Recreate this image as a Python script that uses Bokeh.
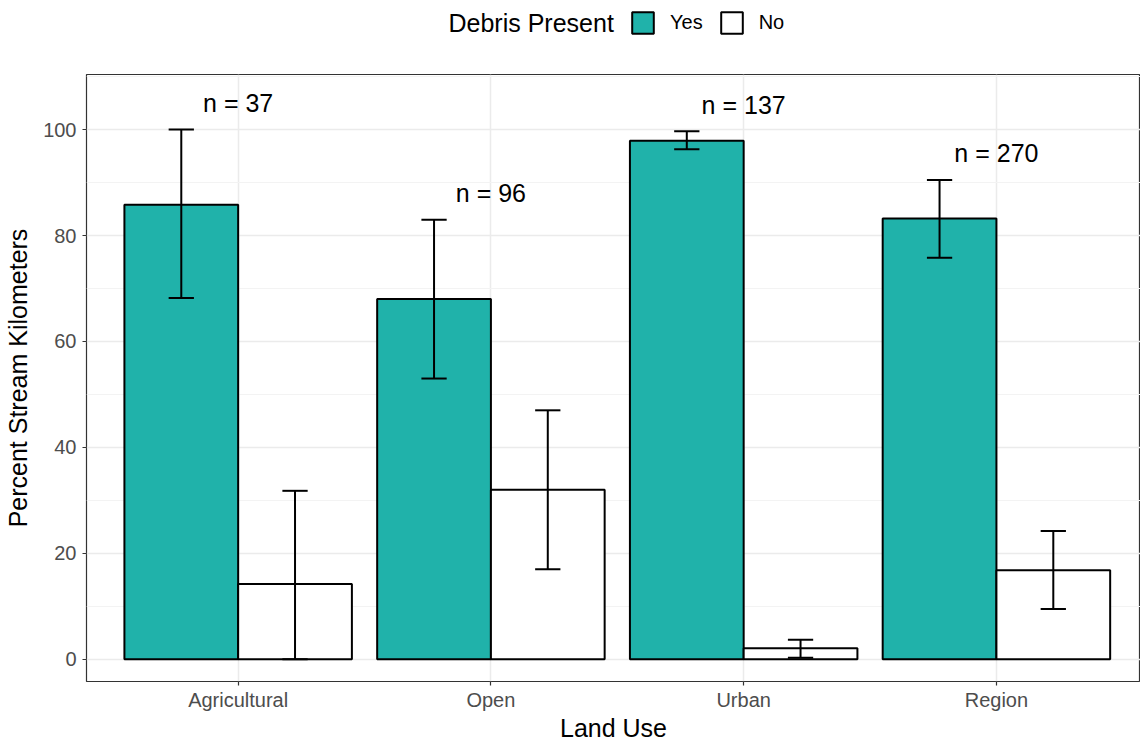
from bokeh.plotting import figure
from bokeh.layouts import column
from bokeh.models import Legend, LegendItem, FixedTicker, Range1d, ColumnDataSource, Label
from bokeh.core.properties import value
from bokeh.embed import file_html
from bokeh.resources import INLINE

# ---- data ----
categories = ["Agricultural", "Open", "Urban", "Region"]
yes_pct = [85.8, 68.0, 97.9, 83.2]
yes_lower = [68.2, 53.0, 96.3, 75.8]
yes_upper = [100.0, 83.0, 99.7, 90.5]
no_pct = [14.2, 32.0, 2.1, 16.8]
no_lower = [0.0, 17.0, 0.3, 9.5]
no_upper = [31.8, 47.0, 3.7, 24.2]
n_sites = [37, 96, 137, 270]
series_names = ["Yes", "No"]
legend_title = "Debris Present"
y_ticks = [0, 20, 40, 60, 80, 100]
y_minor = [10, 30, 50, 70, 90, 110]

FONT = "Liberation Sans"
TEAL = "#20B2AA"
DODGE = 0.225
BAR_W = 0.45
CAP = 0.05

pos = [i + 1 for i in range(len(categories))]
x_yes = [p_ - DODGE for p_ in pos]
x_no = [p_ + DODGE for p_ in pos]

src_yes = ColumnDataSource(dict(x=x_yes, top=yes_pct, lo=yes_lower, hi=yes_upper,
                                cl=[x - CAP for x in x_yes], cr=[x + CAP for x in x_yes]))
src_no = ColumnDataSource(dict(x=x_no, top=no_pct, lo=no_lower, hi=no_upper,
                               cl=[x - CAP for x in x_no], cr=[x + CAP for x in x_no]))
label_y = [max(a, b) + 5 for a, b in zip(yes_upper, no_upper)]
src_lab = ColumnDataSource(dict(x=pos, y=label_y, text=[f"n = {n}" for n in n_sites]))

# ---------------- legend strip ----------------
LEG_H = 70
FRAME_L = 86
pl = figure(width=1140, height=LEG_H, output_backend="svg", toolbar_location=None,
            x_range=Range1d(0, 1), y_range=Range1d(0, 1),
            x_axis_type=None, y_axis_type=None,
            min_border_left=0, min_border_right=0, min_border_top=0, min_border_bottom=0)
pl.outline_line_color = None
pl.xgrid.visible = False
pl.ygrid.visible = False
# same series as the chart, hidden here; they only feed the legend keys
lr_yes = pl.vbar(x="x", top="top", width=BAR_W, source=src_yes, fill_color=TEAL,
                 line_color="black", line_width=2, visible=False)
lr_no = pl.vbar(x="x", top="top", width=BAR_W, source=src_no, fill_color="white",
                line_color="black", line_width=2, visible=False)
legend = Legend(items=[LegendItem(label=series_names[0], renderers=[lr_yes]),
                       LegendItem(label=series_names[1], renderers=[lr_no])],
                orientation="horizontal", location=(629 - FRAME_L, LEG_H - 36))
legend.label_text_font = FONT
legend.label_text_font_size = "20px"
legend.label_text_color = "black"
legend.label_standoff = 14
legend.glyph_width = 27
legend.glyph_height = 27
legend.spacing = 15
legend.padding = 0
legend.margin = 0
legend.border_line_color = None
legend.background_fill_alpha = 0
legend.inactive_fill_alpha = 0
pl.add_layout(legend)
pl.add_layout(Label(x=448 - FRAME_L, y=LEG_H - 22, x_units="screen", y_units="screen",
                    text=legend_title, text_font=FONT, text_font_size="25px",
                    text_color="black", text_baseline="middle", text_align="left"))

# ---------------- main chart ----------------
p = figure(width=1140, height=744 - LEG_H, output_backend="svg", toolbar_location=None,
           x_range=Range1d(0.4, 4.57), y_range=Range1d(-4.2, 110.4),
           min_border_left=FRAME_L, min_border_right=0, min_border_top=4, min_border_bottom=10)
p.background_fill_color = "white"
p.border_fill_color = "white"
p.outline_line_color = "#333333"
p.outline_line_width = 1.2

p.xgrid.ticker = FixedTicker(ticks=pos)
p.xgrid.grid_line_color = "#EBEBEB"
p.xgrid.grid_line_width = 1.5
p.ygrid.grid_line_color = "#EBEBEB"
p.ygrid.grid_line_width = 1.5
p.ygrid.minor_grid_line_color = "#F3F3F3"
p.ygrid.minor_grid_line_width = 1.2

p.xaxis.ticker = FixedTicker(ticks=pos)
p.xaxis.major_label_overrides = {float(k): c for k, c in zip(pos, categories)}
p.yaxis.ticker = FixedTicker(ticks=y_ticks, minor_ticks=y_minor)
for ax in (p.xaxis, p.yaxis):
    ax.axis_line_color = None
    ax.major_tick_line_color = "#333333"
    ax.major_tick_line_width = 1.2
    ax.major_tick_out = 4
    ax.major_tick_in = 0
    ax.minor_tick_out = 0
    ax.minor_tick_in = 0
    ax.major_label_text_font = FONT
    ax.major_label_text_font_size = "20px"
    ax.major_label_text_color = "#4D4D4D"
    ax.axis_label_text_font = FONT
    ax.axis_label_text_font_size = "25px"
    ax.axis_label_text_font_style = "normal"
    ax.axis_label_text_color = "black"
p.xaxis.axis_label = "Land Use"
p.yaxis.axis_label = "Percent Stream Kilometers"
p.xaxis.major_label_standoff = 3
p.xaxis.axis_label_standoff = 0
p.yaxis.major_label_standoff = 6
p.yaxis.axis_label_standoff = 8

p.vbar(x="x", top="top", width=BAR_W, bottom=0, source=src_yes,
       fill_color=TEAL, line_color="black", line_width=2)
p.vbar(x="x", top="top", width=BAR_W, bottom=0, source=src_no,
       fill_color="white", line_color="black", line_width=2)

for s in (src_yes, src_no):
    p.segment(x0="x", x1="x", y0="lo", y1="hi", source=s, line_color="black", line_width=2)
    p.segment(x0="cl", x1="cr", y0="hi", y1="hi", source=s, line_color="black", line_width=2)
    p.segment(x0="cl", x1="cr", y0="lo", y1="lo", source=s, line_color="black", line_width=2)

p.text(x="x", y="y", text="text", source=src_lab, text_align="center",
       text_baseline="middle", text_font=value(FONT), text_font_size="25px",
       text_color="black")

layout = column(pl, p, spacing=0)
open("out.html", "w").write(file_html(layout, INLINE))
